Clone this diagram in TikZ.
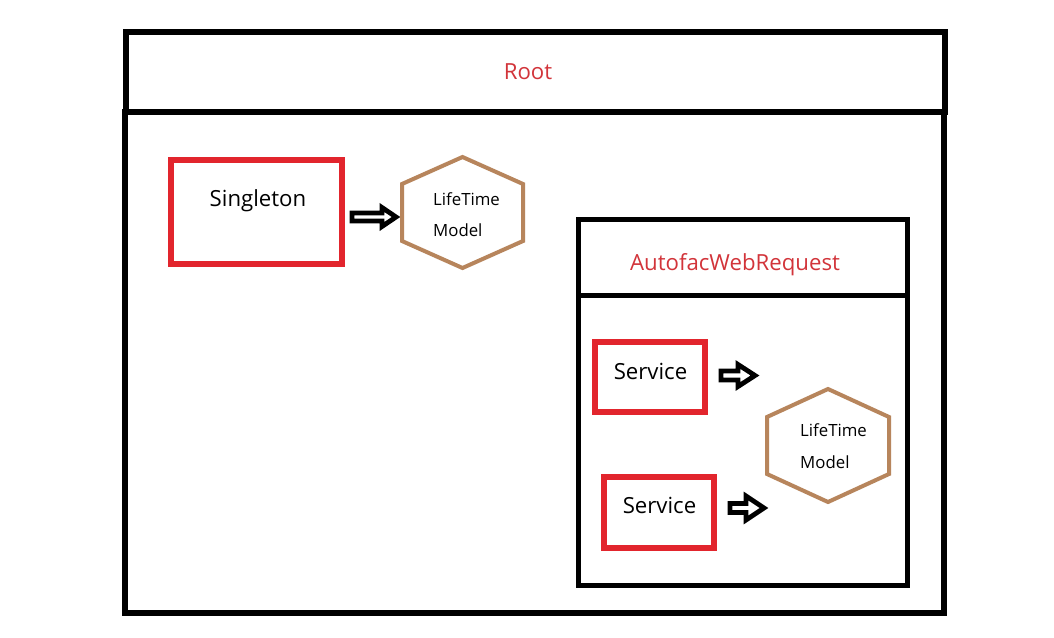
\documentclass[tikz,border=0pt]{standalone}
\usepackage{fontspec}
\setmainfont{Open Sans}
\usetikzlibrary{calc}
\definecolor{boxred}{HTML}{E2252D}
\definecolor{txtred}{HTML}{D2343A}
\definecolor{hexbrown}{HTML}{B7855C}
\tikzset{
  frame/.style={draw=black, line width=6pt},
  subframe/.style={draw=black, line width=5pt},
  redbox/.style={draw=boxred, line width=5.5pt, rectangle, inner sep=0pt},
  hexline/.style={draw=hexbrown, line width=4pt, line join=miter},
  bigtext/.style={font=\fontsize{22.2}{25}\selectfont, inner sep=0pt, anchor=base},
  redtext/.style={bigtext, text=txtred},
  hextext/.style={font=\fontsize{16.8}{19}\selectfont, inner sep=0pt, anchor=base west},
  blockarrow/.style={draw=black, fill=white, line width=4.8pt, line join=miter},
}
% hexagon: name, cx, cy, half width, half height, half side
\newcommand{\hexat}[6]{%
  \coordinate (#1) at (#2,#3);
  \draw[hexline] ($(#1)+(0,-#5)$) -- ($(#1)+(#4,-#6)$) -- ($(#1)+(#4,#6)$)
    -- ($(#1)+(0,#5)$) -- ($(#1)+(-#4,#6)$) -- ($(#1)+(-#4,-#6)$) -- cycle;}
% block arrow: name, tail x, y, head base x, tip x, shaft half, head half
\newcommand{\blockarr}[7]{%
  \coordinate (#1) at (#2,#3);
  \draw[blockarrow] ($(#1)+(0,-#6)$) -- ($(#1)+(#4-#2,-#6)$) -- ($(#1)+(#4-#2,-#7)$)
    -- ($(#1)+(#5-#2,0)$) -- ($(#1)+(#4-#2,#7)$) -- ($(#1)+(#4-#2,#6)$)
    -- ($(#1)+(0,#6)$) -- cycle;}
\begin{document}
\begin{tikzpicture}[x=1pt,y=-1pt]
\useasboundingbox[fill=white] (0,0) rectangle (1054,637);
% outer frame and Root header
\draw[frame] (125,112) rectangle (944,613);
\draw[frame] (126,32) rectangle (945,112);
\node[redtext] (root) at (528,79) {Root};
% Singleton
\node[redbox, minimum width=171pt, minimum height=104pt] (single) at (256.5,212) {};
\node[bigtext] (singletxt) at (258,206) {Singleton};
\blockarr{a1}{352}{217}{382}{396}{4}{9.5}
\hexat{h1}{462.5}{212.5}{60.5}{55.5}{28.5}
\node[hextext] (h1a) at (433,205) {LifeTime};
\node[hextext] (h1b) at (433,236) {Model};
% AutofacWebRequest
\draw[subframe] (578.5,219.5) rectangle (907.5,585.5);
\draw[subframe] (578.5,295) -- (907.5,295);
\node[redtext] (awr) at (735,270) {AutofacWebRequest};
\node[redbox, minimum width=110pt, minimum height=70pt] (svc1) at (650,377) {};
\node[bigtext] (svc1t) at (650.5,379) {Service};
\node[redbox, minimum width=110pt, minimum height=71pt] (svc2) at (659,512.5) {};
\node[bigtext] (svc2t) at (659.5,513) {Service};
\blockarr{a2}{721}{375.5}{738}{755}{4.5}{11}
\blockarr{a3}{730}{508}{746}{764}{4.5}{12}
\hexat{h2}{828}{445.5}{61}{56.5}{28.5}
\node[hextext] (h2a) at (800,436) {LifeTime};
\node[hextext] (h2b) at (800,468) {Model};
\end{tikzpicture}
\end{document}
